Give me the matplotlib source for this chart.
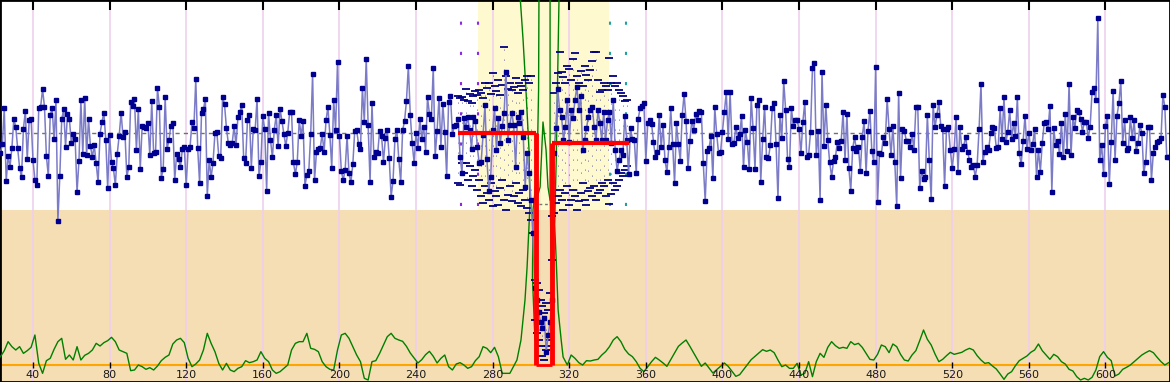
import numpy as np
import matplotlib
matplotlib.use("Agg")
import matplotlib.pyplot as plt

# probe log-ratio signal (one value per probe position, 23..633)
blue_start = 23
blue_vals = [
    -59, -34, 75, -145, -70, -101, -44, 43, 17, -46,
    -104, -132, 13, 65, -79, 38, 42, -82, -140, -156,
    75, 79, 131, 79, -69, -130, 53, 74, -19, 98,
    -264, -129, 41, 71, -41, 56, 42, -29, -4, -17,
    -178, -83, 98, -62, 105, -67, 41, -40, -72, -37,
    -91, -148, -2, 33, 61, -20, -165, -7, -88, -106,
    -157, -62, -8, 61, -11, 2, -132, -103, 92, 81,
    101, -51, 71, -108, 21, 18, 16, 29, -67, 96,
    -61, -58, 134, 78, -134, -109, 109, -48, -21, 22,
    30, -142, -63, -79, -103, -48, -43, -157, -48, -43,
    32, 15, 161,
    -46, -151, 61, 71, 102, -189, -81, -133, -89, -1,
    2, -69, -76, 107, 86, 15, -31, -36, -31, 21,
    -37, 47, 62, 85, -76, -90, 39, 55, -104, 11,
    9, 103, -130, -87, 51, 11, -173, 60, -20, -73,
    10, 53, -39, 72, 36, -3, -39, -1, 62, 63,
    -88, -124, -86, 40, -9, 36, -158, -126, -115, -4,
    177, -142, -58, -48, -44, -3, -58, 38, 78, -5,
    -104, 99, 10, 212, -8, -115, -141, -110, -9, -121,
    -148, -94, 7, 8, -33, -48, 136, 33, 223, 23,
    -148, 89, -72, -56, -59, 7, -8,
    -87, -16, 9, -75, -191, -143, -18, 9, -78, -148,
    8, 35, 96, 201, 54, -31, -89, 0, -44, 42,
    -17, 19, -56, 107, 57, 42, 196, -69, 7, 105,
    -41, 87, 4, -128, 92, 112, -4, 21, 24, 43,
    -71, -121, 45,
    17, 47, 9, -47, 49, 35, -43, -91, -87, -6,
    83, -77, -173, -131, 9, 75, -51, 44, -30, 20,
    60, 184, -21, 24, 61, 24, -103, 49, 29, 64,
    -11, -161, -60, -120, -200, -300,
    -465, -501, -537, -567, -585, -555, -657, -606, -567, -501,
    -60, 14, 131, 69, 49, -21, 19, 99, -26, 69,
    44, 99, 139, 69, 111, -51, -21, 14, 49, 69,
    79, 19, -21, 69, 29, -21, 64,
    -21, 39, 64, -31, 99, -51, -113, -81, -51, -66,
    51, -21, -123, 14, -19, -21, -121, 42, 74, 82,
    89, -83, 29, 39, 27, -26, -73, -58, 53, -43,
    23, -81, -118, -41, 74, -33, -151, 29, -33, -83,
    54, 117, 37, -106, -23, 37, 9, 56, 39, 66,
    63, -91, -205, -54, -46, -9, -136, 77, -3, -61,
    -58, 4, 62, 122, -17, 122, -33, -29, 19, -16,
    -4, 51, -103, 9, -28, -109, 104, 14, -108, 85,
    98, -146, -18, 79, -71, -76, -36, 74,
    89, -33, -196, 54, -16, 155, 69, -78, -103, 76,
    21, 39, 39, 11, -60, 34, 92, -73, -66, 3,
    194, 209, -66, 6, -201, 184, -39, 84, -21, -88,
    -131, -85, -73, -27, -46, -23, 63, -81, 57, -104,
    -174, -46, -13, -54, -41, -115, -11, 36, -121, 7,
    67, -54, -86, 199, -206, -59, -64, -11, -31, 102,
    13, -66, 21, -88, -218, 121, -135, 11, 7, -23,
    -24, -43, -4, -51, 77, 79, -166, -114, -139, -131,
    54, -81, -199, 84, 17, 54, 92, 22, 11, -159,
    13, 19, -51, -106, -49, 49, -116, 17, -47, -39,
    -11, -56,
    -81, -101, -96, -131, -96, 12, 147, -86, -56, -43,
    -51, 1, 19, 14, -46, -43, 74, -19, 107, -28,
    4, 69, -19, 29, -9, 107, -61, -93, -24, 52,
    -49, 1, -51, -33, 12, -131, -51, -116, -29, 29,
    34, 11, 80, -176, 14, -36, -23, -63, 29, -73,
    57, -53, 147, -66, 47, 14, 69, 64, 42, 4,
    34, 34, -16, 19, 124, 134, 99, 344, -81, -36,
    -123, 21, 51, -154, -26, 127, -81, 51, 89, 156,
    -31, 39, -51, -46, 47, -16, 39, -54, -31, 24,
    1, -121, -86, 19, 19, -141, -59, -41, -26, -23,
    -16, 114, 79, -73, -71,
]

# replicate spread around the called region (probes 262..350)
rep_start = 262
rep_hi = [110, 105, 107, 100, 131, 95, 118, 90, 112, 125,
          114, 130, 120, 105, 150, 135, 149, 118, 179, 140,
          125, 160, 115, 145, 259, 170, 131, 150, 128, 139,
          165, 120, 150, 140, 130, 160, 171, 150, 171,
          -200, -440, -450, -470, -500, -520, -540, -510, -530, -480, -250,
          120, 150, 180, 244, 184, 167, 150, 200, 191, 160,
          221, 239, 170, 150, 185, 140, 200, 175, 160, 190,
          215, 244, 244, 160, 124, 129, 150, 140, 130,
          224, 150, 170, 140, 151, 130, 120, 110, 95, 100]
rep_lo = [-150, -156, -90, -120, -91, -140, -100, -160, -130, -110,
          -170, -140, -190, -210, -160, -180, -200, -150, -220, -175,
          -190, -215, -165, -140, -200, -230, -185, -160, -205, -190,
          -150, -210, -180, -220, -170, -200, -225, -240, -260,
          -300, -560, -600, -620, -640, -670, -680, -650, -640, -620, -380,
          -240, -210, -190, -170, -200, -230, -180, -160, -215, -200,
          -170, -190, -230, -205, -180, -150, -200, -215, -175, -165,
          -190, -160, -200, -180, -170, -150, -160, -190, -140,
          -213, -183, -150, -170, -160, -140, -120, -130, -110, -100]

# smoothed score track (bottom panel), every 2nd probe from 23
green_left = [
    -671, -653, -626, -641, -651, -641, -661, -653, -643, -606,
    -691, -721, -683, -676, -649, -626, -616, -679, -666, -681,
    -641, -681, -667, -661, -651, -631, -639, -629, -623, -613,
    -626, -651, -656, -661, -713, -711, -696, -701, -709, -704,
    -711, -699, -683, -673, -666, -633, -621, -616, -629, -676,
    -701, -693, -681, -651, -601, -631, -656, -691, -711, -691,
    -711, -716, -706, -701, -683, -689, -686, -681, -656, -676,
    -686, -711, -721, -716, -706, -696, -651, -631, -626, -626,
    -601, -646, -649, -656, -686, -701, -709, -711, -651, -606,
    -601, -616, -641, -666, -686, -736, -741, -686, -683, -661,
    -636, -611, -601, -616, -621,
    -625, -640, -660, -675, -690, -680, -665, -655, -670, -690,
    -676, -666, -701, -711, -693, -689, -696, -706, -701, -683,
    -671, -641, -646, -659, -643, -671, -721, -721, -721, -699,
]
# every 2nd probe from 319
green_right = [
    -696, -666, -676, -689, -696, -683, -684, -681, -679,
    -666, -656, -641, -621, -611, -626, -649, -663, -671, -686,
    -706, -716, -701, -686, -673, -681,
    -690, -700, -680, -660, -640, -630, -621, -640, -660, -680,
    -700, -690, -705, -720, -710, -700, -690, -700, -715, -730,
    -725, -710, -695, -680, -670, -660, -650, -655,
    -651, -659, -681, -701, -696, -706, -706, -691, -726, -721,
    -686, -731, -686, -661, -673, -643, -626, -638, -646, -643,
    -646, -626, -635, -631, -643, -661, -679, -681, -664, -636,
    -641, -659, -633, -641, -664, -681, -684, -666, -653, -623,
    -591, -619, -636, -663, -686, -679, -668, -658, -664, -661,
    -658, -651, -646, -651, -668, -681, -691, -689, -699, -708,
    -723, -739, -723, -716, -698, -683, -676, -669, -658, -651,
    -633, -653, -666, -679, -664, -671, -686, -693, -709, -714,
    -731, -741, -736, -741, -733, -711, -671, -656, -673, -683,
    -729, -723, -709, -703, -696, -686, -676, -666, -659, -653,
    -659, -673, -686, -696, -689,
]
# score trace around the breakpoints, as drawn (position, value)
peak_left_u = [292.7, 294.8, 296.9, 298.0, 299.5, 299.0, 297.4, 295.9, 294.3]
peak_left_v = [-681, -621, -501, -402, -216, -51, 129, 279, 414]
peak_in1_u = [304.2, 304.0, 303.2, 301.1, 300.8, 302.1]
peak_in1_v = [414, 129, -120, -231, -432, -621]
bump_u = [302.9, 304.8, 306.3, 307.9, 308.9, 310.0]
bump_v = [-201, -162, 33, -51, -162, -201]
peak_in2_u = [310.0, 310.0, 310.5, 311.0]
peak_in2_v = [414, -162, -351, -492]
peak_right_u = [314.7, 313.9, 313.2, 312.4, 313.2, 314.2, 315.8, 316.8]
peak_right_v = [414, 159, -81, -276, -381, -531, -621, -672]

# segmentation result
seg_start = [261.8, 302.6, 310.9]
seg_end = [302.6, 310.9, 351.4]
seg_mean = [-1, -696, -30]
sub_level = -214
sub_range = [304.3, 311.0]

region = [272.4, 340.8]
left_marks = [263.5, 272.3]
right_marks = [341.2, 349.5]
ticks = list(range(40, 601, 40))

xlim = (22.77, 633.7)
ylim = (-747, 399)
panel_split = -231
baseline = -696
label_y = -726

fig = plt.figure(figsize=(11.7, 3.82), dpi=100)
ax = fig.add_axes([0, 0, 1, 1])
ax.set_xlim(*xlim)
ax.set_ylim(*ylim)

ax.axhspan(ylim[0], panel_split, color='#F5DEB3', lw=0, zorder=0)
ax.fill_between(region, panel_split, ylim[1], color='#FEF9CF', lw=0, zorder=0.5)

for t in ticks:
    ax.axvline(t, color='#F0CFEF', lw=1.2, zorder=1)
ax.vlines(ticks, ylim[1] - 30, ylim[1], color='black', lw=1.5, zorder=6)

ax.axhline(0, color='#707070', lw=1, ls=(0, (3, 3)), zorder=2)
ax.axhline(baseline, color='#FFA500', lw=1.5, zorder=2)

# green score
gl_x = np.arange(23, 23 + 2 * len(green_left), 2)
gr_x = np.arange(319, 319 + 2 * len(green_right), 2)
gcol = '#008000'
ax.plot(np.r_[gl_x, peak_left_u], np.r_[green_left, peak_left_v], color=gcol, lw=1, zorder=3)
ax.plot(np.r_[peak_right_u, gr_x], np.r_[peak_right_v, green_right], color=gcol, lw=1, zorder=3)
ax.plot(peak_in1_u, peak_in1_v, color=gcol, lw=1, zorder=3)
ax.plot(peak_in2_u, peak_in2_v, color=gcol, lw=1, zorder=3)
ax.plot(bump_u, bump_v, color=gcol, lw=1, zorder=3)

# region marker dots
ax.vlines(left_marks, -220, 370, color='#8A2BE2', lw=1.5, linestyles=(0, (1.5, 13)), zorder=3)
ax.vlines(right_marks, -220, 370, color='#20A0A0', lw=1.5, linestyles=(0, (1.5, 13)), zorder=3)

# replicates
rx = np.arange(rep_start, rep_start + len(rep_hi))
ax.vlines(rx[::2], np.array(rep_lo)[::2], np.array(rep_hi)[::2], color='#2a2a90',
          lw=0.6, linestyles=(0, (1, 11)), zorder=3)
ax.plot(rx, rep_hi, ls='none', marker='_', ms=6, mew=1.3, color='#000080', zorder=4)
ax.plot(rx, rep_lo, ls='none', marker='_', ms=6, mew=1.3, color='#000080', zorder=4)

# main signal
bx = np.arange(blue_start, blue_start + len(blue_vals))
ax.plot(bx, blue_vals, color='#7B7BC8', lw=1.1, zorder=4)
ax.plot(bx, blue_vals, ls='none', marker='s', ms=2.3, color='#000090', zorder=5)

# segment means
ax.hlines(seg_mean[0], seg_start[0], seg_end[0], color='red', lw=3, zorder=6)
ax.hlines(seg_mean[2], seg_start[2], seg_end[2], color='red', lw=3, zorder=6)
ax.hlines(seg_mean[1], seg_start[1], seg_end[1], color='red', lw=2, zorder=6)
ax.vlines([seg_end[0]], seg_mean[1], seg_mean[0], color='red', lw=3.5, zorder=6)
ax.vlines([seg_end[1]], seg_mean[1], seg_mean[2], color='red', lw=3.5, zorder=6)
ax.hlines(sub_level, sub_range[0], sub_range[1], color='#777777', lw=1, ls=(0, (2, 2)), zorder=5)

# bottom ticks and labels
ax.plot(ticks, [baseline] * len(ticks), ls='none', marker='|', ms=4, mew=1, color='black', zorder=6)
for t in ticks:
    ax.text(t, label_y, str(t), ha='center', va='center', fontsize=8, color='#1a1a1a', zorder=7)

ax.set_xticks([])
ax.set_yticks([])
for s in ax.spines.values():
    s.set_color('black')
    s.set_linewidth(2)

fig.savefig('out.png', dpi=100)
